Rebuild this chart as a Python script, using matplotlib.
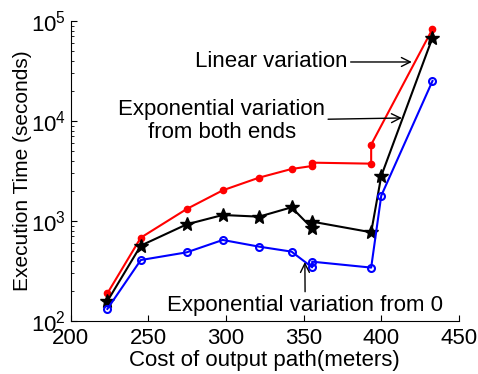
import matplotlib
matplotlib.use("Agg")
import matplotlib.pyplot as plt
import numpy as np

plt.rcParams['font.family'] = ['Liberation Sans', 'DejaVu Sans']
plt.rcParams['mathtext.fontset'] = 'custom'
plt.rcParams['mathtext.rm'] = 'Liberation Sans'
plt.rcParams['mathtext.it'] = 'Liberation Sans:italic'

# path cost (meters) and execution time (seconds)
linear_x = [223.6, 245.1, 274.7, 297.9, 321.3, 342.2, 355.5, 355.5, 393.5, 393.5, 433.0]
linear_t = [189, 681, 1318, 2026, 2713, 3311, 3548, 3831, 3744, 5800, 83176]

both_x = [223.6, 245.1, 274.7, 297.9, 321.3, 342.2, 355.5, 355.5, 393.5, 400.0, 433.0]
both_t = [158, 567, 926, 1148, 1105, 1370, 845, 985, 771, 2818, 68129]

zero_x = [223.6, 245.1, 274.7, 297.9, 321.3, 342.2, 355.5, 355.5, 393.5, 400.0, 433.0]
zero_t = [132, 407, 486, 646, 554, 494, 344, 392, 342, 1791, 25119]

x_ticks = [200, 250, 300, 350, 400, 450]

fs = 16

fig = plt.figure(figsize=(4.78, 3.74), dpi=100)
ax = fig.add_axes([0.148, 0.1417, 0.812, 0.8022])

ax.plot(linear_x, linear_t, '-', color='red', lw=1.5, marker='.', ms=9)
ax.plot(both_x, both_t, '-', color='black', lw=1.5, marker='*', ms=10)
ax.plot(zero_x, zero_t, '-', color='blue', lw=1.5, marker='o', ms=5,
        mfc='none', mew=1.5)

ax.set_yscale('log')
ax.set_xlim(200, 450)
ax.set_ylim(1e2, 1e5)
ax.set_xticks(x_ticks)
ax.tick_params(which='both', direction='in', labelsize=fs)
ax.tick_params(which='major', length=4)
ax.tick_params(which='minor', length=2)
ax.tick_params(axis='x', pad=5)
ax.spines['top'].set_visible(False)
ax.spines['right'].set_visible(False)

ax.set_xlabel('Cost of output path(meters)', fontsize=fs, labelpad=1)
ax.set_ylabel('Execution Time (seconds)', fontsize=15, labelpad=-1)

arrow = dict(arrowstyle='->', color='black', lw=1, shrinkA=0, shrinkB=0)
ax.annotate('Linear variation', xy=(419.7, 10**4.59), xytext=(378.5, 10**4.59),
            ha='right', va='center', fontsize=fs, arrowprops=arrow)
ax.annotate('Exponential variation\nfrom both ends', xy=(413.3, 10**4.03),
            xytext=(297.3, 10**4.0), ha='center', va='center',
            multialignment='center', fontsize=fs, linespacing=1.1,
            arrowprops=arrow)
ax.annotate('Exponential variation from 0', xy=(350.8, 10**2.59),
            xytext=(351.0, 10**2.16), ha='center', va='center',
            fontsize=fs, arrowprops=arrow)

fig.savefig('out.png', dpi=100)
